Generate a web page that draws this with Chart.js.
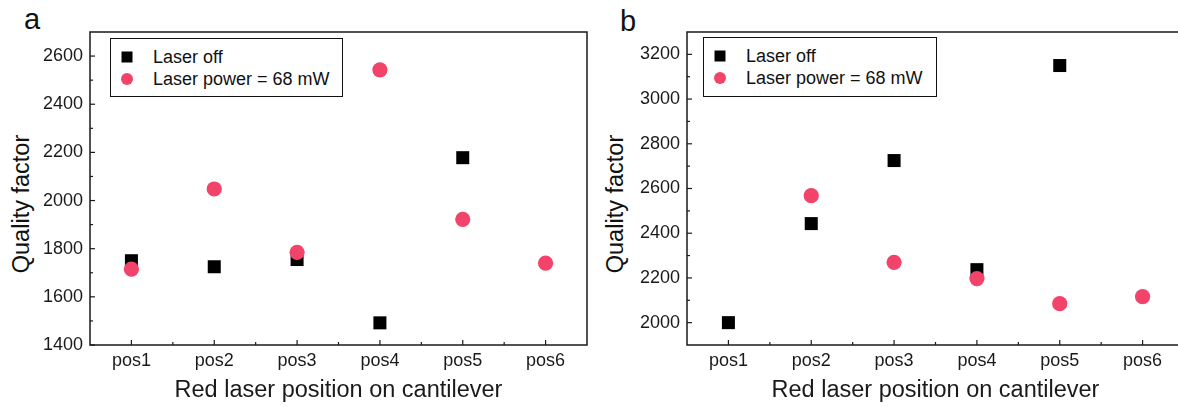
<!DOCTYPE html>
<html>
<head>
<meta charset="utf-8">
<script src="https://cdn.jsdelivr.net/npm/chart.js@4.4.0/dist/chart.umd.min.js"></script>
<style>
  html, body { margin: 0; padding: 0; background: #fff; overflow: hidden; width: 1178px; height: 407px; }
  body { position: relative; font-family: "Liberation Sans", Arial, sans-serif; color: #111; }
  .panel { position: absolute; top: 0; height: 407px; overflow: hidden; }
  .panel canvas { display: block; }
  .tag { position: absolute; font-size: 29px; line-height: 29px; }
  .ytitle { position: absolute; font-size: 23.5px; line-height: 26px; white-space: nowrap; transform: translate(-50%, -50%) rotate(-90deg); }
  .legend { position: absolute; border: 1.5px solid #111; box-sizing: border-box; background: #fff; }
  .legend .row { position: absolute; left: 0; right: 0; height: 20px; font-size: 18px; line-height: 20px; white-space: nowrap; }
  .legend .mk { position: absolute; top: 50%; transform: translate(-50%, -50%); }
</style>
</head>
<body>
<div class="tag" style="left:24px;top:5px">a</div>
<div class="tag" style="left:620px;top:7px">b</div>
<div class="ytitle" style="left:21px;top:204px">Quality factor</div>
<div class="ytitle" style="left:615px;top:204px">Quality factor</div>
<div class="panel" style="left:0;width:590px"><canvas id="chartA" width="590" height="407"></canvas></div>
<div class="panel" style="left:590px;width:588px"><canvas id="chartB" width="600" height="407"></canvas></div>
<div class="legend" id="legA" style="left:110px;top:38px;width:233px;height:59px"></div>
<div class="legend" id="legB" style="left:703px;top:37px;width:234px;height:60px"></div>

<script>
const positions = ["pos1", "pos2", "pos3", "pos4", "pos5", "pos6"];

// panel a
const offA = [1750, 1725, 1755, 1492, 2178, null];
const onA  = [1715, 2048, 1785, 2543, 1922, 1740];
const yMajorA = [1400, 1600, 1800, 2000, 2200, 2400, 2600];
const yMinorA = [1500, 1700, 1900, 2100, 2300, 2500];

// panel b
const offB = [2000, 2443, 2725, 2237, 3150, null];
const onB  = [null, 2568, 2270, 2197, 2085, 2116];
const yMajorB = [2000, 2200, 2400, 2600, 2800, 3000, 3200];
const yMinorB = [2100, 2300, 2500, 2700, 2900, 3100];

const xMajor = [1, 2, 3, 4, 5, 6];
const xMinor = [1.5, 2.5, 3.5, 4.5, 5.5];

const RED = "#f2436a";
const INK = "#1a1a1a";
const FONT = "'Liberation Sans', Arial, sans-serif";

function toPoints(vals) {
  return vals.map((v, i) => ({ x: i + 1, y: v })).filter(p => p.y != null);
}

// frame + inward tick marks, positioned with the chart's own scales
const frameTicks = {
  id: "frameTicks",
  afterDraw(chart, args, opts) {
    const { ctx, chartArea: a, scales: { x, y } } = chart;
    ctx.save();
    ctx.strokeStyle = INK;
    ctx.lineWidth = 1.5;
    ctx.strokeRect(a.left, a.top, a.right - a.left, a.bottom - a.top);
    ctx.lineWidth = 1.2;
    const hx = (v, len) => { const p = x.getPixelForValue(v); ctx.beginPath(); ctx.moveTo(p, a.bottom); ctx.lineTo(p, a.bottom - len); ctx.stroke(); };
    const vy = (v, len) => { const p = y.getPixelForValue(v); ctx.beginPath(); ctx.moveTo(a.left, p); ctx.lineTo(a.left + len, p); ctx.stroke(); };
    xMajor.forEach(v => hx(v, 5));
    xMinor.forEach(v => hx(v, 3));
    opts.major.forEach(v => vy(v, 5));
    opts.minor.forEach(v => vy(v, 3));
    ctx.restore();
  }
};

function makeChart(id, off, on, yMin, yMax, yMajor, yMinor, axisW, padRight) {
  return new Chart(document.getElementById(id), {
    type: "scatter",
    data: {
      datasets: [
        { label: "Laser off", data: toPoints(off), pointStyle: "rect", pointRadius: 9.2, backgroundColor: "#000", borderWidth: 0, order: 2 },
        { label: "Laser power = 68 mW", data: toPoints(on), pointStyle: "circle", pointRadius: 7.6, backgroundColor: RED, borderWidth: 0, order: 1 }
      ]
    },
    options: {
      responsive: false, animation: false, events: [],
      layout: { autoPadding: false, padding: { top: 32, right: padRight, left: 0, bottom: 0 } },
      plugins: { legend: { display: false }, tooltip: { enabled: false }, frameTicks: { major: yMajor, minor: yMinor } },
      scales: {
        x: {
          type: "linear", min: 0.5, max: 6.5,
          afterBuildTicks: s => { s.ticks = xMajor.map(v => ({ value: v })); },
          afterFit: s => { s.height = 62; s.paddingLeft = 0; s.paddingRight = 0; },
          ticks: { callback: v => positions[v - 1], color: INK, padding: 5, font: { family: FONT, size: 18 } },
          grid: { display: false, drawTicks: false },
          border: { display: false },
          title: { display: true, text: "Red laser position on cantilever", color: INK, padding: { top: 0, bottom: 2 }, font: { family: FONT, size: 23.5 } }
        },
        y: {
          min: yMin, max: yMax,
          afterBuildTicks: s => { s.ticks = yMajor.map(v => ({ value: v })); },
          afterFit: s => { s.width = axisW; s.paddingTop = 0; s.paddingBottom = 0; },
          ticks: { callback: v => String(v), color: INK, padding: 7, font: { family: FONT, size: 18 } },
          grid: { display: false, drawTicks: false },
          border: { display: false }
        }
      }
    },
    plugins: [frameTicks]
  });
}

function buildLegend(boxId, chart) {
  const box = document.getElementById(boxId);
  const rowsY = [18, 40];
  chart.data.datasets.forEach((ds, i) => {
    const row = document.createElement("div");
    row.className = "row";
    row.style.top = (rowsY[i] - 10) + "px";
    const mk = document.createElement("span");
    mk.className = "mk";
    mk.style.left = "16px";
    const size = ds.pointStyle === "rect" ? 11 : 12;
    mk.style.width = size + "px";
    mk.style.height = size + "px";
    mk.style.background = ds.backgroundColor;
    if (ds.pointStyle === "circle") mk.style.borderRadius = "50%";
    const txt = document.createElement("span");
    txt.style.position = "absolute";
    txt.style.left = "42px";
    txt.textContent = ds.label;
    row.appendChild(mk);
    row.appendChild(txt);
    box.appendChild(row);
  });
}

const chartA = makeChart("chartA", offA, onA, 1400, 2700, yMajorA, yMinorA, 90, 3);
const chartB = makeChart("chartB", offB, onB, 1900, 3300, yMajorB, yMinorB, 97, 6);
buildLegend("legA", chartA);
buildLegend("legB", chartB);
</script>
</body>
</html>
